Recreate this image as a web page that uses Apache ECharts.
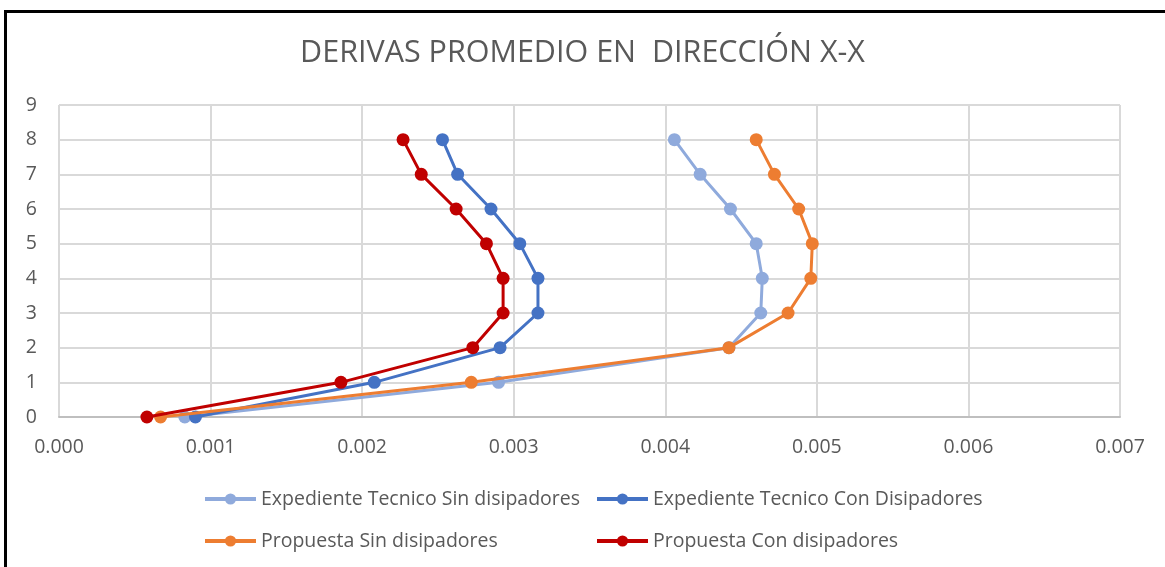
<!DOCTYPE html>
<html>
<head>
<meta charset="utf-8">
<script src="https://cdn.jsdelivr.net/npm/echarts@6/dist/echarts.min.js"></script>
<style>
  html, body { margin: 0; padding: 0; background: #fff; }
  #chart { width: 1165px; height: 567px; }
  #frame {
    position: absolute; left: 4px; top: 10px;
    width: 1200px; height: 600px;
    border-left: 3px solid #000; border-top: 3px solid #000;
    pointer-events: none;
  }
</style>
</head>
<body>
<div id="chart"></div>
<div id="frame"></div>
<script>
// pisos (eje Y)
const floors = [0, 1, 2, 3, 4, 5, 6, 7, 8];
// derivas por piso
const expSin = [0.00083, 0.00290, 0.00442, 0.00463, 0.00464, 0.00460, 0.00443, 0.00423, 0.00406];
const expCon = [0.00090, 0.00208, 0.00291, 0.00316, 0.00316, 0.00304, 0.00285, 0.00263, 0.00253];
const propSin = [0.00067, 0.00272, 0.00442, 0.00481, 0.00496, 0.00497, 0.00488, 0.00472, 0.00460];
const propCon = [0.00058, 0.00186, 0.00273, 0.00293, 0.00293, 0.00282, 0.00262, 0.00239, 0.00227];
const seriesNames = [
  'Expediente Tecnico Sin disipadores',
  'Expediente Tecnico Con Disipadores',
  'Propuesta Sin disipadores',
  'Propuesta Con disipadores'
];
const colors = ['#8faadc', '#4472c4', '#ed7d31', '#c00000'];

const font = 'Open Sans';
const textColor = '#595959';

function pairs(xs) {
  return xs.map((x, i) => [x, floors[i]]);
}

const allData = [expSin, expCon, propSin, propCon];

// una leyenda por elemento para ubicarlas como en el original
const legendPos = [
  { left: 198, top: 484 },
  { left: 590, top: 484 },
  { left: 198, top: 526 },
  { left: 590, top: 526 }
];

const chart = echarts.init(document.getElementById('chart'));
chart.setOption({
  animation: false,
  title: {
    text: 'DERIVAS PROMEDIO EN  DIRECCIÓN X-X',
    left: 'center',
    top: 33,
    textStyle: { fontFamily: font, fontSize: 30.5, fontWeight: 'normal', color: textColor }
  },
  legend: seriesNames.map((name, i) => ({
    data: [name],
    left: legendPos[i].left,
    top: legendPos[i].top,
    itemWidth: 51,
    itemHeight: 14,
    itemGap: 6,
    lineStyle: { width: 4 },
    textStyle: { fontFamily: font, fontSize: 19.5, color: textColor }
  })),
  grid: { left: 59, right: 45, top: 105, bottom: 150 },
  xAxis: {
    type: 'value',
    min: 0,
    max: 0.007,
    interval: 0.001,
    axisLine: { show: true, lineStyle: { color: '#bfbfbf', width: 2 } },
    axisTick: { show: false },
    axisLabel: {
      fontFamily: font, fontSize: 19.5, color: textColor, margin: 20,
      formatter: v => v.toFixed(3)
    },
    splitLine: { show: true, lineStyle: { color: '#d9d9d9', width: 2 } }
  },
  yAxis: {
    type: 'value',
    min: 0,
    max: 9,
    interval: 1,
    axisLine: { show: false },
    axisTick: { show: false },
    axisLabel: { fontFamily: font, fontSize: 19.5, color: textColor, margin: 22 },
    splitLine: { show: true, lineStyle: { color: '#d9d9d9', width: 2 } }
  },
  series: allData.map((d, i) => ({
    name: seriesNames[i],
    type: 'line',
    data: pairs(d),
    symbol: 'circle',
    symbolSize: 13,
    showSymbol: true,
    color: colors[i],
    lineStyle: { width: 3, color: colors[i] },
    itemStyle: { color: colors[i] },
    z: 2 + i
  }))
});
</script>
</body>
</html>
